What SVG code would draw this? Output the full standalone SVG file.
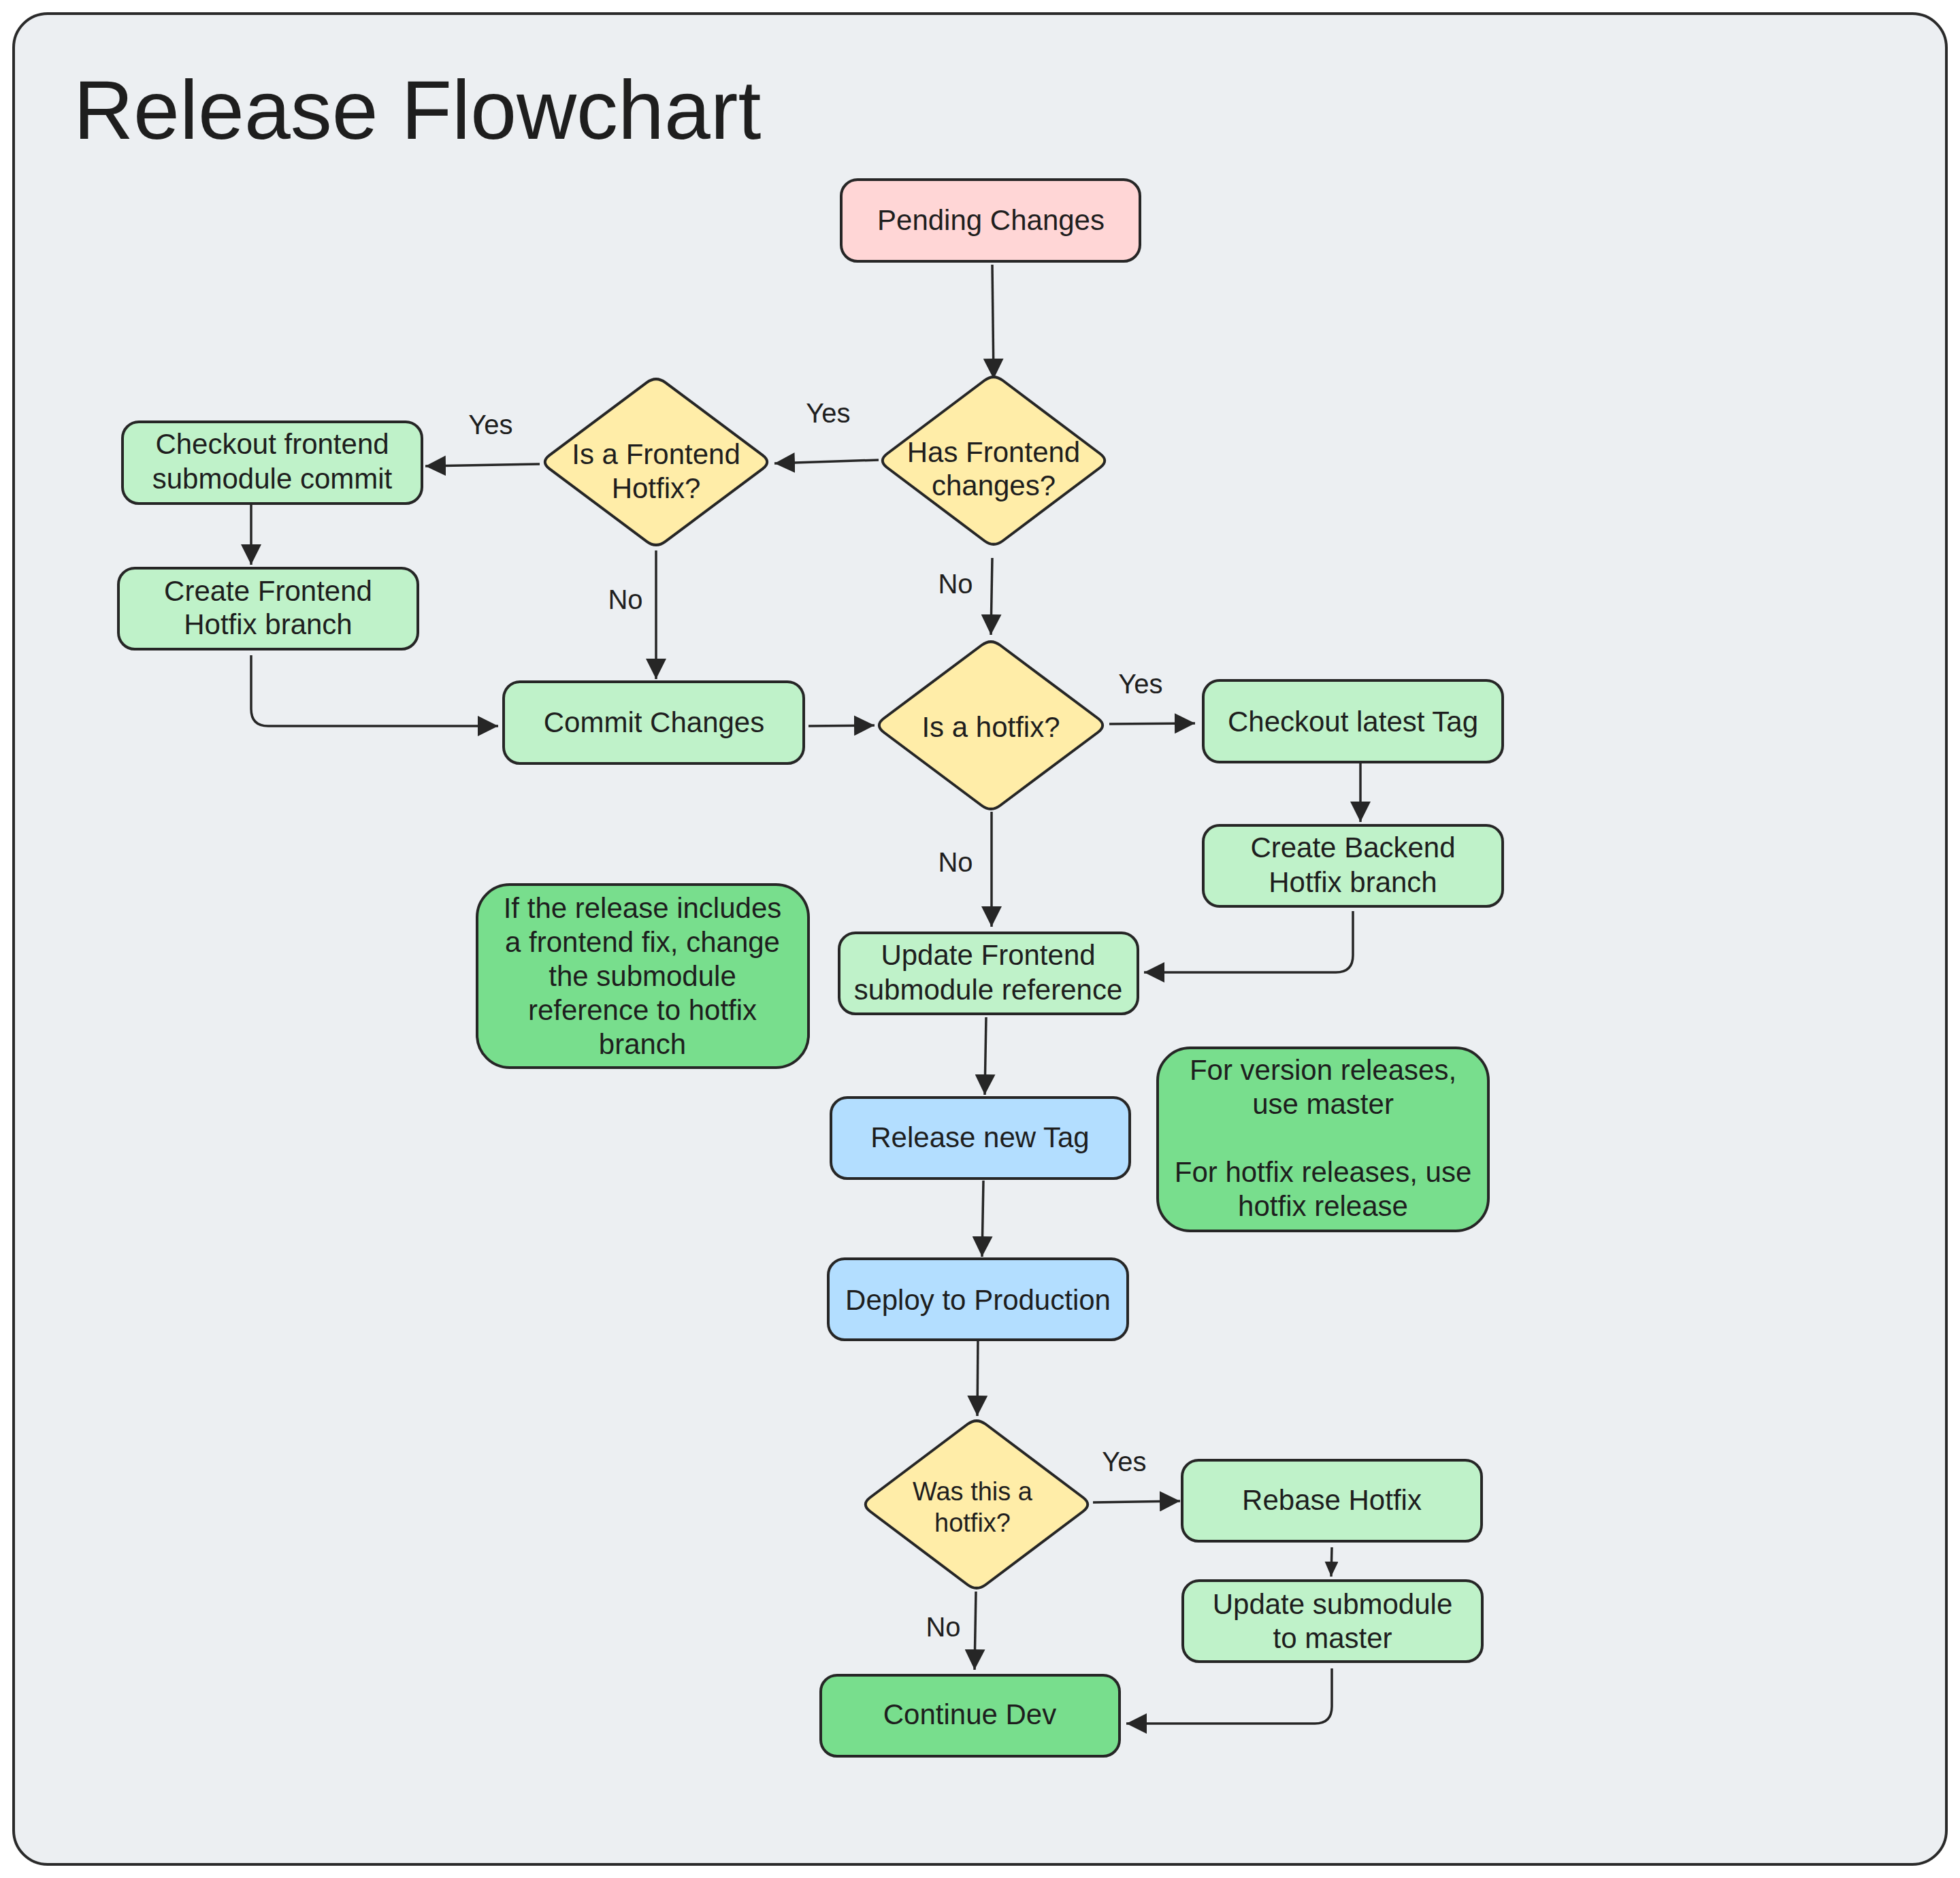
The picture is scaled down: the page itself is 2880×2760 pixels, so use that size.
<svg xmlns="http://www.w3.org/2000/svg" width="2880" height="2760" viewBox="0 0 2880 2760">
<style>
text{font-family:"Liberation Sans",Arial,sans-serif;fill:#1e1e1e;text-anchor:middle}
.title{font-size:122px;text-anchor:start}
.t{font-size:42px}
.ts{font-size:38px}
.lbl{font-size:40px}
.n{stroke:#262626;stroke-width:4}
.pink{fill:#FFD6D6}
.lg{fill:#BFF2C9}
.dg{fill:#78DE8D}
.bl{fill:#B3DEFF}
.yl{fill:#FFEDA8}
.e{fill:none;stroke:#262626;stroke-width:3.5}
</style>
<defs>
<marker id="ah" markerUnits="userSpaceOnUse" markerWidth="30" markerHeight="30" refX="30" refY="15" orient="auto"><path d="M0,0 L30,15 L0,30 z" fill="#262626"/></marker>
<marker id="ahs" markerUnits="userSpaceOnUse" markerWidth="22" markerHeight="20" refX="22" refY="10" orient="auto"><path d="M0,0 L22,10 L0,20 z" fill="#262626"/></marker>
</defs>
<rect x="20" y="20" width="2840" height="2720" rx="50" fill="#ECEFF2" stroke="#2a2a2a" stroke-width="4"/>
<text class="title" x="108" y="204">Release Flowchart</text>

<g id="connectors">
<path class="e" d="M1458,389 L1460,557" marker-end="url(#ah)"/>
<path class="e" d="M1291,676 L1138,681" marker-end="url(#ah)"/>
<path class="e" d="M793,682 L625,685" marker-end="url(#ah)"/>
<path class="e" d="M369,740 L369,830" marker-end="url(#ah)"/>
<path class="e" d="M964,809 L964,998" marker-end="url(#ah)"/>
<path class="e" d="M1458,820 L1456,933" marker-end="url(#ah)"/>
<path class="e" d="M369,963 L369,1042 Q369,1067 394,1067 L732,1067" marker-end="url(#ah)"/>
<path class="e" d="M1188,1067 L1285,1066" marker-end="url(#ah)"/>
<path class="e" d="M1630,1064 L1756,1063" marker-end="url(#ah)"/>
<path class="e" d="M1999,1120 L1999,1208" marker-end="url(#ah)"/>
<path class="e" d="M1457,1193 L1457,1362" marker-end="url(#ah)"/>
<path class="e" d="M1988,1339 L1988,1404 Q1988,1429 1963,1429 L1681,1429" marker-end="url(#ah)"/>
<path class="e" d="M1449,1495 L1447,1609" marker-end="url(#ah)"/>
<path class="e" d="M1445,1735 L1443,1847" marker-end="url(#ah)"/>
<path class="e" d="M1437,1966 L1436,2081" marker-end="url(#ah)"/>
<path class="e" d="M1606,2208 L1734,2206" marker-end="url(#ah)"/>
<path class="e" d="M1957,2274 L1956,2317" marker-end="url(#ahs)"/>
<path class="e" d="M1434,2339 L1432,2454" marker-end="url(#ah)"/>
<path class="e" d="M1957,2452 L1957,2508 Q1957,2533 1932,2533 L1655,2533" marker-end="url(#ah)"/>
<text class="lbl" x="1217" y="621">Yes</text>
<text class="lbl" x="721" y="638">Yes</text>
<text class="lbl" x="919" y="895">No</text>
<text class="lbl" x="1404" y="872">No</text>
<text class="lbl" x="1676" y="1019">Yes</text>
<text class="lbl" x="1404" y="1281">No</text>
<text class="lbl" x="1652" y="2162">Yes</text>
<text class="lbl" x="1386" y="2405">No</text>
</g>

<g id="pending"><rect class="n pink" x="1236" y="264" width="439" height="120" rx="24"/><text class="t" x="1456" y="338">Pending Changes</text></g>
<g id="hasFrontend"><path class="n yl" d="M1473.6,559.24 L1616.4,666.76 Q1630,677 1616.4,687.24 L1473.6,794.76 Q1460,805 1446.4,794.76 L1303.6,687.24 Q1290,677 1303.6,666.76 L1446.4,559.24 Q1460,549 1473.6,559.24 Z"/><text class="t" x="1460" y="679">Has Frontend</text><text class="t" x="1460" y="728">changes?</text></g>
<g id="isFrontendHotfix"><path class="n yl" d="M977.6,562.16 L1120.4,668.84 Q1134,679 1120.4,689.16 L977.6,795.84 Q964,806 950.4,795.84 L807.6,689.16 Q794,679 807.6,668.84 L950.4,562.16 Q964,552 977.6,562.16 Z"/><text class="t" x="964" y="682">Is a Frontend</text><text class="t" x="964" y="732">Hotfix?</text></g>
<g id="checkoutFrontend"><rect class="n lg" x="180" y="620" width="440" height="120" rx="24"/><text class="t" x="400" y="667">Checkout frontend</text><text class="t" x="400" y="718">submodule commit</text></g>
<g id="createFrontend"><rect class="n lg" x="174" y="835" width="440" height="119" rx="24"/><text class="t" x="394" y="883">Create Frontend</text><text class="t" x="394" y="932">Hotfix branch</text></g>
<g id="commitChanges"><rect class="n lg" x="740" y="1002" width="441" height="120" rx="24"/><text class="t" x="961" y="1076">Commit Changes</text></g>
<g id="isHotfix"><path class="n yl" d="M1469.68,948.24 L1613.32,1055.76 Q1627,1066 1613.32,1076.24 L1469.68,1183.76 Q1456,1194 1442.32,1183.76 L1298.68,1076.24 Q1285,1066 1298.68,1055.76 L1442.32,948.24 Q1456,938 1469.68,948.24 Z"/><text class="t" x="1456" y="1083">Is a hotfix?</text></g>
<g id="checkoutTag"><rect class="n lg" x="1768" y="1000" width="440" height="120" rx="24"/><text class="t" x="1988" y="1075">Checkout latest Tag</text></g>
<g id="createBackend"><rect class="n lg" x="1768" y="1213" width="440" height="119" rx="24"/><text class="t" x="1988" y="1260">Create Backend</text><text class="t" x="1988" y="1311">Hotfix branch</text></g>
<g id="updateFrontend"><rect class="n lg" x="1233" y="1371" width="439" height="119" rx="24"/><text class="t" x="1452" y="1418">Update Frontend</text><text class="t" x="1452" y="1469">submodule reference</text></g>
<g id="note1"><rect class="n dg" x="701" y="1300" width="487" height="269" rx="48"/><text class="t" x="944" y="1349">If the release includes</text><text class="t" x="944" y="1399">a frontend fix, change</text><text class="t" x="944" y="1449">the submodule</text><text class="t" x="944" y="1499">reference to hotfix</text><text class="t" x="944" y="1549">branch</text></g>
<g id="releaseTag"><rect class="n bl" x="1221" y="1613" width="439" height="119" rx="24"/><text class="t" x="1440" y="1686">Release new Tag</text></g>
<g id="note2"><rect class="n dg" x="1701" y="1540" width="486" height="269" rx="48"/><text class="t" x="1944" y="1587">For version releases,</text><text class="t" x="1944" y="1637">use master</text><text class="t" x="1944" y="1737">For hotfix releases, use</text><text class="t" x="1944" y="1787">hotfix release</text></g>
<g id="deploy"><rect class="n bl" x="1217" y="1850" width="440" height="119" rx="24"/><text class="t" x="1437" y="1925">Deploy to Production</text></g>
<g id="wasHotfix"><path class="n yl" d="M1448.6,2093.24 L1591.4,2200.76 Q1605,2211 1591.4,2221.24 L1448.6,2328.76 Q1435,2339 1421.4,2328.76 L1278.6,2221.24 Q1265,2211 1278.6,2200.76 L1421.4,2093.24 Q1435,2083 1448.6,2093.24 Z"/><text class="ts" x="1429" y="2205">Was this a</text><text class="ts" x="1429" y="2251">hotfix?</text></g>
<g id="rebase"><rect class="n lg" x="1737" y="2146" width="440" height="119" rx="24"/><text class="t" x="1957" y="2219">Rebase Hotfix</text></g>
<g id="updateSubmodule"><rect class="n lg" x="1738" y="2323" width="440" height="119" rx="24"/><text class="t" x="1958" y="2372">Update submodule</text><text class="t" x="1958" y="2422">to master</text></g>
<g id="continueDev"><rect class="n dg" x="1206" y="2462" width="439" height="119" rx="24"/><text class="t" x="1425" y="2534">Continue Dev</text></g>
</svg>
